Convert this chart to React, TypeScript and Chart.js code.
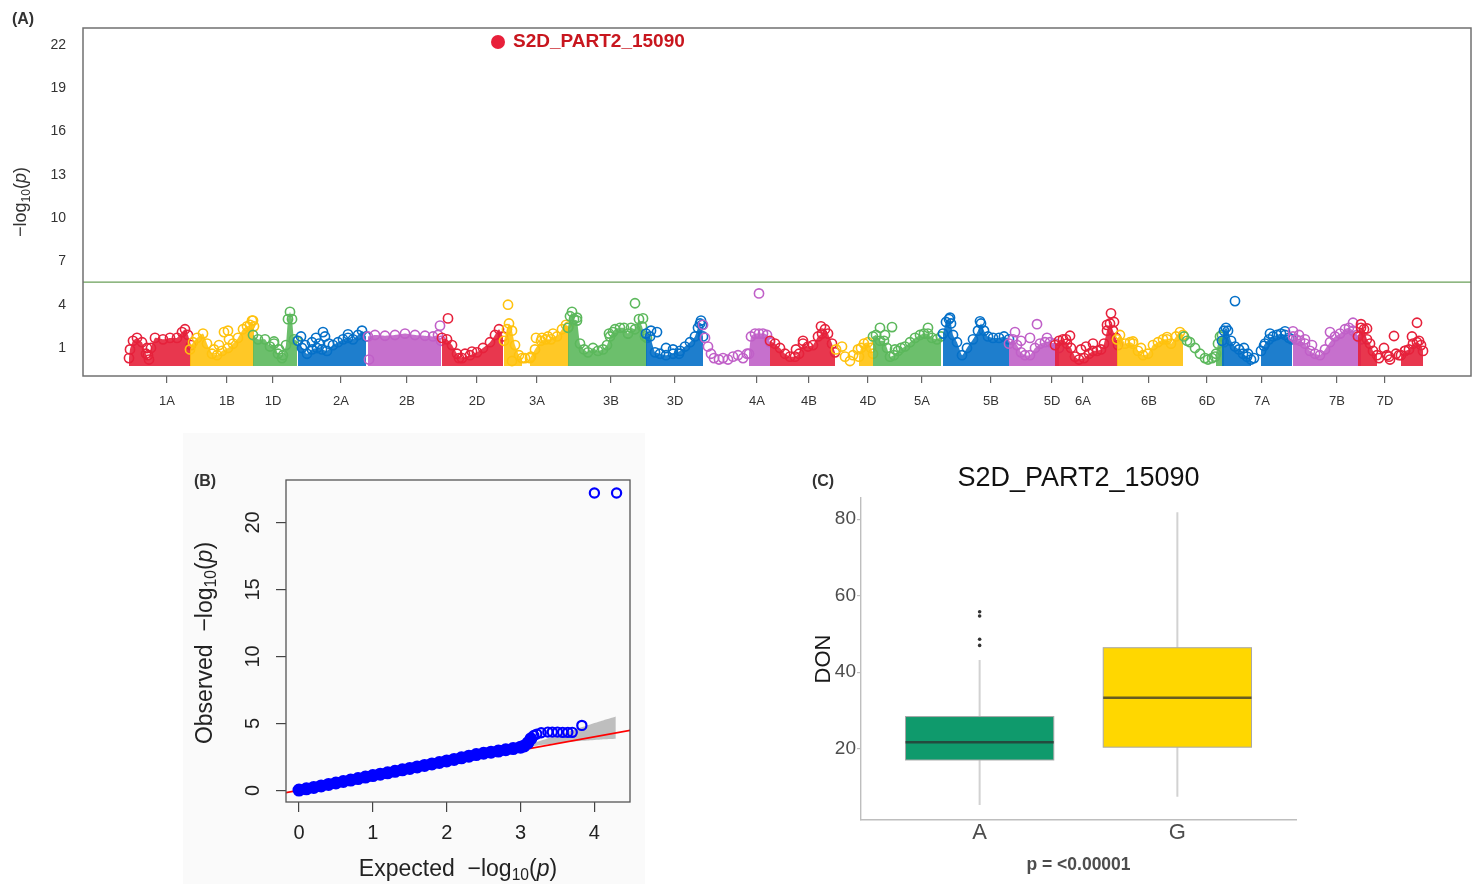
import React, { useEffect, useRef } from 'react';
import { Chart, registerables } from 'chart.js';

Chart.register(...registerables);

const FONT = '"Liberation Sans", Arial, Helvetica, sans-serif';
Chart.defaults.font.family = FONT;
Chart.defaults.color = '#333';

// ---------------- (A) Manhattan plot data ----------------
const chromosomes = ['1A', '1B', '1D', '2A', '2B', '2D', '3A', '3B', '3D', '4A', '4B', '4D', '5A', '5B', '5D', '6A', '6B', '6D', '7A', '7B', '7D'];
const chromTickPositions = [84, 144, 190, 258, 324, 394, 454, 528, 592, 674, 726, 785, 839, 908, 969, 1000, 1066, 1124, 1179, 1254, 1302];
// dense marker clouds: "position:-log10(p)" pairs along the top of each cloud; '|' separates clouds
const chromDense = [
  '46:0.3 47:0.9 50:1.5 54:1.7 59:1.4 63:0.6 66:0.2 68:1.0 72:1.7 80:1.6 87:1.7 94:1.7 99:2.1 102:2.3 105:1.9 108:1.2',
  '107:0.9 110:1.4 114:1.7 120:2.0 124:1.3 129:0.6 134:0.5 139:0.8 145:1.0 150:1.3 155:1.7 160:2.3 164:2.5 167:2.6 169:2.9 171:2.5',
  '170:1.9 175:1.6 182:1.6 187:1.1 191:1.3 195:0.6 200:0.5 203:1.2 205:3.0 207:3.5 209:3.0 211:1.6 214:1.5',
  '215:1.5 219:1.0 224:0.6 229:0.9 234:1.0 239:0.9 244:0.8 250:1.2 255:1.4 260:1.6 265:1.7 270:1.6 275:1.9 279:2.2 283:1.8',
  '285:1.8 292:1.9 302:1.85 312:1.9 322:2.0 332:1.9 342:1.85 350:1.8 355:1.9 358:1.5',
  '359:1.7 364:1.6 369:1.2 374:0.6 379:0.3 387:0.5 394:0.7 400:1.0 407:1.4 412:1.9 416:2.3 420:1.8',
  '421:1.5 424:2.3 426:2.7 429:2.2 432:1.2 436:0.5 439:0.3|447:0.3 452:0.9 458:1.5 463:1.6 468:1.6 474:1.8 479:2.3 483:2.6 486:2.5',
  '485:2.4 487:3.2 489:3.5 491:3.0 494:2.9 497:1.3 501:0.9 505:0.7 510:1.0 515:0.8 520:0.9 524:1.2 527:1.8 532:2.3 537:2.4 541:2.4 545:2.0 548:2.4 552:2.3 556:3.0 559:2.5 562:1.8 564:1.7',
  '563:2.0 567:1.8 572:0.7 577:0.6 583:0.5 590:0.6 597:0.8 602:1.1 607:1.4 612:1.8 615:2.4 617:2.7 620:1.8',
  '666:0.6 668:1.8 672:2.0 676:2.0 680:2.0 684:1.9 687:1.4',
  '687:1.5 692:1.3 697:1.0 702:0.6 707:0.4 712:0.4 716:0.6 720:1.3 725:1.1 730:1.2 735:1.8 739:2.0 742:2.3 745:2.0 749:1.3 752:0.7',
  '776:0.4 778:1.0 781:1.3 785:1.4 788:1.0 790:0.6',
  '790:1.8 793:1.9 797:1.5 801:1.5 804:1.0 807:0.4 811:0.5 815:0.8 822:1.1 827:1.4 832:1.7 837:1.9 841:2.0 845:2.0 849:1.7 854:1.6 858:1.8',
  '860:2.0 863:2.8 866:3.0 868:2.7 870:1.9 874:1.4 879:0.5 884:1.0 890:1.6 895:2.2 898:2.7 901:2.2 905:1.8 910:1.7 916:1.7 921:1.8 926:1.6',
  '926:1.3 930:1.6 934:1.2 938:0.7 942:0.5 947:0.5 952:1.0 957:1.3 962:1.4 967:1.4 972:1.3 976:1.0',
  '972:1.2 976:1.5 980:1.6 984:1.3 988:1.0 992:0.4 996:0.2 1001:0.3 1006:0.6 1010:0.8 1014:0.8 1018:0.9 1021:1.3 1024:2.2 1027:2.7 1030:2.2 1033:1.7 1035:1.2',
  '1034:1.6 1037:1.9 1042:1.3 1047:1.4 1050:1.3 1055:0.8 1060:0.5 1065:0.6 1070:1.2 1075:1.4 1080:1.6 1084:1.6 1088:1.3 1093:1.8 1097:2.1 1100:1.9',
  '1133:0.6 1135:1.3 1137:1.8 1139:1.9 1141:1.4',
  '1139:1.5 1141:2.2 1143:2.4 1145:2.2 1148:1.5 1152:1.1 1156:0.9 1160:0.6 1164:0.4 1168:0.2|1178:0.8 1182:1.3 1186:1.6 1190:1.8 1194:1.9 1198:2.0 1202:1.9 1206:1.7 1209:1.6',
  '1210:1.8 1213:1.6 1217:1.5 1222:1.3 1227:0.8 1232:0.6 1237:0.5 1242:0.9 1247:1.4 1252:1.8 1257:2.0 1262:2.3 1266:2.4 1270:2.2 1274:1.9 1278:1.6',
  '1275:1.8 1278:2.4 1281:2.3 1284:1.6 1287:1.3 1290:0.8 1294:0.5|1318:0.5 1322:0.8 1326:0.9 1330:1.3 1334:1.4 1338:1.2 1340:0.8',
];
// isolated markers
const chromSparse = [
  '64:1.0 65:0.5',
  '131:0.9 136:1.2 141:2.1 145:2.2 146:1.6 170:2.9',
  '196:0.9 199:0.3 191:1.45',
  '218:1.8 222:1.2 229:1.4 233:1.7 236:1.3 240:2.1 242:1.8 246:1.3 265:1.95',
  '286:0.2 357:2.55',
  '365:3.05 382:0.6 389:0.75 376:0.3',
  '425:4.0 442:0.3 448:0.4 453:1.7 459:1.7 465:1.8 470:2.0 429:0.1',
  '494:3.1 526:2.0 530:2.1 552:4.1 560:3.05',
  '568:2.2 574:2.1 583:1.0 590:0.9 596:0.6 618:2.9 619:2.6',
  '620:2.6 622:1.7 625:1.1 628:0.6 631:0.3 636:0.2 640:0.3 645:0.2 650:0.4 655:0.5 660:0.3 664:0.6 676:4.78',
  '713:0.9 720:1.5 738:2.5',
  '753:0.9 759:1.1 762:0.4 767:0.1 770:0.5 775:0.9',
  '797:2.4 802:1.9 809:2.45 812:0.9 818:1.0 845:2.4',
  '867:3.1 897:2.85',
  '932:2.1 938:1.5 947:1.7 954:2.65 964:1.7',
  '983:1.6 987:1.85 998:0.9 1003:1.1 1010:1.3 1024:2.6 1028:3.4 1031:2.8',
  '1050:1.45 1058:1.0 1084:1.75',
  '1101:1.8 1104:1.5 1107:1.4 1112:1.0 1117:0.6 1122:0.3 1125:0.2 1129:0.3 1132:0.4',
  '1152:4.25 1161:1.0 1165:0.6 1171:0.3 1181:1.15 1187:2.0 1202:2.15',
  '1210:2.15 1216:1.9 1222:1.6 1229:1.2 1247:2.1 1270:2.75',
  '1278:2.65 1284:2.35 1296:0.3 1301:1.0 1304:0.5 1306:0.4 1307:0.2 1311:1.83 1313:0.6 1316:0.5 1322:0.8 1329:1.8 1334:2.75 1336:1.5',
];
const chromPalette = ['#E6213B', '#FFC20E', '#5CB85C', '#0570C8', '#C060C8'];
const manhattanYTicks = [1, 4, 7, 10, 13, 16, 19, 22];
const genomeMin = 0;
const genomeMax = 1388;
const manhattanYMin = -0.94;
const manhattanYMax = 23.17;
const significanceThreshold = 5.57;
const topSnpName = 'S2D_PART2_15090';
const topSnpPosition = 415;
const topSnpLogP = 22.2;

// ---------------- (B) QQ plot data ----------------
const qqExpected = [0, 0.1, 0.2, 0.3, 0.4, 0.5, 0.6, 0.7, 0.8, 0.9, 1.0, 1.1, 1.2, 1.3, 1.4, 1.5, 1.6, 1.7, 1.8, 1.9, 2.0, 2.1, 2.2, 2.3, 2.4, 2.5, 2.6, 2.7, 2.8, 2.9, 3.0, 3.05, 3.1, 3.14];
const qqObserved = [0.02, 0.11, 0.22, 0.33, 0.44, 0.55, 0.66, 0.77, 0.88, 0.99, 1.1, 1.21, 1.31, 1.42, 1.53, 1.64, 1.75, 1.86, 1.97, 2.08, 2.2, 2.31, 2.43, 2.55, 2.67, 2.77, 2.85, 2.93, 3.03, 3.12, 3.22, 3.32, 3.55, 3.85];
const qqTailExpected = [3.18, 3.22, 3.28, 3.37, 3.43, 3.5, 3.57, 3.64, 3.7, 3.83, 4.0, 4.3];
const qqTailObserved = [4.1, 4.2, 4.3, 4.35, 4.35, 4.35, 4.33, 4.33, 4.33, 4.85, 22.2, 22.2];
const qqBandX = [3.07, 3.3, 3.6, 3.9, 4.1, 4.29];
const qqBandUpper = [3.3, 3.75, 4.3, 4.85, 5.2, 5.52];
const qqBandLower = [3.2, 3.4, 3.6, 3.72, 3.8, 3.85];
const qqLineEnds = [-0.3, 4.6];
const qqXTicks = [0, 1, 2, 3, 4];
const qqYTicks = [0, 5, 10, 15, 20];
const qqXMin = -0.176;
const qqXMax = 4.482;
const qqYMin = -0.87;
const qqYMax = 23.17;

// ---------------- (C) Box plot data ----------------
const alleles = ['A', 'G'];
const alleleColors = ['#0F9A6C', '#FFD700'];
const whiskerLow = [5.3, 7.45];
const quartile1 = [17.05, 20.4];
const medianDON = [21.7, 33.3];
const quartile3 = [28.4, 46.4];
const whiskerHigh = [43.2, 81.8];
const outliersA = [55.8, 54.7, 48.6, 47.0];
const donTicks = [20, 40, 60, 80];
const donMin = 1.36;
const donMax = 85.54;
const pValueLabel = 'p = <0.00001';

// ---------------- helpers ----------------
const parsePoints = (s: string) =>
  s.trim().split(/\s+/).filter(Boolean).map((t) => {
    const [x, y] = t.split(':').map(Number);
    return { x, y };
  });

const rgba = (hex: string, a: number) => {
  const n = parseInt(hex.slice(1), 16);
  return `rgba(${(n >> 16) & 255},${(n >> 8) & 255},${n & 255},${a})`;
};

const zip = (xs: number[], ys: number[]) => xs.map((x, i) => ({ x, y: ys[i] }));

const framePlugin = (color: string, width: number) => ({
  id: 'frame',
  afterDraw(chart: any) {
    const { ctx, chartArea: a } = chart;
    ctx.save();
    ctx.strokeStyle = color;
    ctx.lineWidth = width;
    ctx.strokeRect(a.left, a.top, a.right - a.left, a.bottom - a.top);
    ctx.restore();
  },
});

const TRANSPARENT = 'rgba(0,0,0,0)';

function manhattanConfig(): any {
  const datasets: any[] = [];
  chromosomes.forEach((name, i) => {
    const color = chromPalette[i % chromPalette.length];
    chromDense[i].split('|').forEach((seg) => {
      datasets.push({
        label: name,
        data: parsePoints(seg),
        showLine: true,
        borderColor: TRANSPARENT,
        borderWidth: 1,
        backgroundColor: rgba(color, 0.9),
        fill: { value: -0.25 },
        tension: 0.12,
        pointRadius: 4.6,
        pointBorderWidth: 1.6,
        pointBorderColor: color,
        pointBackgroundColor: TRANSPARENT,
        order: -i,
      });
    });
    datasets.push({
      label: name,
      data: parsePoints(chromSparse[i]),
      showLine: false,
      borderColor: color,
      backgroundColor: TRANSPARENT,
      fill: false,
      pointRadius: 4.6,
      pointBorderWidth: 1.6,
      pointBorderColor: color,
      pointBackgroundColor: TRANSPARENT,
      order: -i,
    });
  });
  datasets.push({
    label: topSnpName,
    data: [{ x: topSnpPosition, y: topSnpLogP }],
    showLine: false,
    pointRadius: 7,
    pointBorderWidth: 0,
    pointBorderColor: '#E8203A',
    pointBackgroundColor: '#E8203A',
    order: -100,
  });

  const thresholdPlugin = {
    id: 'threshold',
    beforeDatasetsDraw(chart: any) {
      const { ctx, chartArea: a, scales } = chart;
      const y = scales.y.getPixelForValue(significanceThreshold);
      ctx.save();
      ctx.strokeStyle = '#6A9F58';
      ctx.lineWidth = 1.3;
      ctx.beginPath();
      ctx.moveTo(a.left, y);
      ctx.lineTo(a.right, y);
      ctx.stroke();
      ctx.restore();
    },
  };
  const snpLabelPlugin = {
    id: 'snpLabel',
    afterDatasetsDraw(chart: any) {
      const { ctx, scales } = chart;
      const x = scales.x.getPixelForValue(topSnpPosition);
      const y = scales.y.getPixelForValue(topSnpLogP);
      ctx.save();
      ctx.font = `bold 19px ${FONT}`;
      ctx.fillStyle = '#C8161E';
      ctx.textAlign = 'left';
      ctx.textBaseline = 'middle';
      ctx.fillText(topSnpName, x + 15, y);
      ctx.restore();
    },
  };

  return {
    type: 'line',
    data: { datasets },
    options: {
      responsive: false,
      animation: false,
      events: [],
      layout: { padding: { top: 28, right: 9, left: 0, bottom: 0 } },
      plugins: { legend: { display: false }, tooltip: { enabled: false } },
      scales: {
        x: {
          type: 'linear',
          min: genomeMin,
          max: genomeMax,
          afterBuildTicks: (s: any) => {
            s.ticks = chromTickPositions.map((v) => ({ value: v }));
          },
          afterFit: (s: any) => {
            s.height = 44;
          },
          ticks: {
            autoSkip: false,
            maxRotation: 0,
            minRotation: 0,
            padding: 11,
            color: '#333',
            font: { size: 13 },
            callback: (_v: any, i: number) => chromosomes[i],
          },
          grid: { drawOnChartArea: false, drawTicks: true, tickLength: 7, color: '#666', lineWidth: 1.2 },
          border: { display: false },
        },
        y: {
          type: 'linear',
          min: manhattanYMin,
          max: manhattanYMax,
          afterBuildTicks: (s: any) => {
            s.ticks = manhattanYTicks.map((v) => ({ value: v }));
          },
          afterFit: (s: any) => {
            s.width = 83;
          },
          ticks: { padding: 17, color: '#333', font: { size: 14 } },
          grid: { display: false, drawTicks: false },
          border: { display: false },
        },
      },
    },
    plugins: [thresholdPlugin, snpLabelPlugin, framePlugin('#707070', 1.5)],
  };
}

function qqConfig(): any {
  const rotatedYLabels = {
    id: 'rotatedYLabels',
    afterDraw(chart: any) {
      const { ctx, chartArea: a, scales } = chart;
      ctx.save();
      ctx.font = `20px ${FONT}`;
      ctx.fillStyle = '#222';
      ctx.textAlign = 'center';
      ctx.textBaseline = 'middle';
      qqYTicks.forEach((v) => {
        const y = scales.y.getPixelForValue(v);
        ctx.save();
        ctx.translate(a.left - 33, y);
        ctx.rotate(-Math.PI / 2);
        ctx.fillText(String(v), 0, 0);
        ctx.restore();
      });
      ctx.restore();
    },
  };
  return {
    type: 'line',
    data: {
      datasets: [
        {
          label: 'band upper',
          data: zip(qqBandX, qqBandUpper),
          borderColor: TRANSPARENT,
          backgroundColor: '#BEBEBE',
          fill: '+1',
          pointRadius: 0,
          tension: 0.2,
          order: 5,
        },
        {
          label: 'band lower',
          data: zip(qqBandX, qqBandLower),
          borderColor: TRANSPARENT,
          backgroundColor: TRANSPARENT,
          fill: false,
          pointRadius: 0,
          tension: 0.2,
          order: 6,
        },
        {
          label: 'expected line',
          data: qqLineEnds.map((v) => ({ x: v, y: v })),
          borderColor: '#FF0000',
          borderWidth: 1.8,
          pointRadius: 0,
          fill: false,
          order: 4,
        },
        {
          label: 'observed',
          data: zip(qqExpected, qqObserved),
          showLine: true,
          borderColor: '#0000FF',
          borderWidth: 10,
          borderCapStyle: 'round',
          borderJoinStyle: 'round',
          fill: false,
          pointRadius: 5.5,
          pointBorderWidth: 2,
          pointBorderColor: '#0000FF',
          pointBackgroundColor: '#0000FF',
          order: 1,
        },
        {
          label: 'observed tail',
          data: zip(qqTailExpected, qqTailObserved),
          showLine: false,
          fill: false,
          pointRadius: 4.6,
          pointBorderWidth: 2.2,
          pointBorderColor: '#0000FF',
          pointBackgroundColor: TRANSPARENT,
          order: 0,
        },
      ],
    },
    options: {
      responsive: false,
      animation: false,
      events: [],
      layout: { padding: { top: 50, right: 20, left: 0, bottom: 0 } },
      plugins: { legend: { display: false }, tooltip: { enabled: false } },
      scales: {
        x: {
          type: 'linear',
          min: qqXMin,
          max: qqXMax,
          afterBuildTicks: (s: any) => {
            s.ticks = qqXTicks.map((v) => ({ value: v }));
          },
          afterFit: (s: any) => {
            s.height = 82;
          },
          ticks: { padding: 9, color: '#222', font: { size: 20 }, maxRotation: 0, autoSkip: false },
          grid: { drawOnChartArea: false, drawTicks: true, tickLength: 10, color: '#444', lineWidth: 1.2 },
          border: { display: false },
        },
        y: {
          type: 'linear',
          min: qqYMin,
          max: qqYMax,
          afterBuildTicks: (s: any) => {
            s.ticks = qqYTicks.map((v) => ({ value: v }));
          },
          afterFit: (s: any) => {
            s.width = 136;
          },
          ticks: { display: false },
          grid: { drawOnChartArea: false, drawTicks: true, tickLength: 10, color: '#444', lineWidth: 1.2 },
          border: { display: false },
        },
      },
    },
    plugins: [framePlugin('#555', 1.3), rotatedYLabels],
  };
}

function boxConfig(): any {
  const boxWidth = 0.75;
  const boxplotPlugin = {
    id: 'boxplot',
    beforeDatasetsDraw(chart: any) {
      const { ctx, scales } = chart;
      const { x, y } = scales;
      ctx.save();
      alleles.forEach((_a, i) => {
        const pos = i + 1;
        const cx = x.getPixelForValue(pos);
        const xl = x.getPixelForValue(pos - boxWidth / 2);
        const xr = x.getPixelForValue(pos + boxWidth / 2);
        const yLo = y.getPixelForValue(whiskerLow[i]);
        const yQ1 = y.getPixelForValue(quartile1[i]);
        const yMed = y.getPixelForValue(medianDON[i]);
        const yQ3 = y.getPixelForValue(quartile3[i]);
        const yHi = y.getPixelForValue(whiskerHigh[i]);
        ctx.strokeStyle = '#D2D2D2';
        ctx.lineWidth = 2;
        ctx.beginPath();
        ctx.moveTo(cx, yLo);
        ctx.lineTo(cx, yQ1);
        ctx.moveTo(cx, yQ3);
        ctx.lineTo(cx, yHi);
        ctx.stroke();
        ctx.fillStyle = alleleColors[i];
        ctx.fillRect(xl, yQ3, xr - xl, yQ1 - yQ3);
        ctx.strokeStyle = '#A8A8A8';
        ctx.lineWidth = 1;
        ctx.strokeRect(xl, yQ3, xr - xl, yQ1 - yQ3);
        ctx.strokeStyle = 'rgba(45,45,45,0.72)';
        ctx.lineWidth = 2.5;
        ctx.beginPath();
        ctx.moveTo(xl, yMed);
        ctx.lineTo(xr, yMed);
        ctx.stroke();
      });
      ctx.restore();
    },
  };
  return {
    type: 'line',
    data: {
      datasets: [
        {
          label: 'outliers',
          data: outliersA.map((v) => ({ x: 1, y: v })),
          showLine: false,
          fill: false,
          pointRadius: 1.8,
          pointBorderWidth: 0,
          pointBackgroundColor: '#333',
          pointBorderColor: '#333',
        },
      ],
    },
    options: {
      responsive: false,
      animation: false,
      events: [],
      layout: { padding: { top: 0, right: 24, left: 0, bottom: 0 } },
      plugins: {
        legend: { display: false },
        tooltip: { enabled: false },
        title: {
          display: true,
          text: topSnpName,
          fullSize: false,
          color: '#111',
          font: { size: 27, weight: 'normal' },
          padding: { top: 12.8, bottom: 2.8 },
        },
      },
      scales: {
        x: {
          type: 'linear',
          min: 0.4,
          max: 2.6,
          afterBuildTicks: (s: any) => {
            s.ticks = alleles.map((_a, i) => ({ value: i + 1 }));
          },
          afterFit: (s: any) => {
            s.height = 64;
          },
          ticks: {
            padding: 0,
            color: '#4D4D4D',
            font: { size: 22 },
            maxRotation: 0,
            autoSkip: false,
            callback: (_v: any, i: number) => alleles[i],
          },
          grid: { display: false, drawTicks: false },
          border: { display: true, color: '#BEBEBE', width: 1.4 },
          title: {
            display: true,
            text: pValueLabel,
            color: '#4D4D4D',
            font: { size: 17.5, weight: 'bold' },
            padding: { top: 0, bottom: 8.5 },
          },
        },
        y: {
          type: 'linear',
          min: donMin,
          max: donMax,
          afterBuildTicks: (s: any) => {
            s.ticks = donTicks.map((v) => ({ value: v }));
          },
          afterFit: (s: any) => {
            s.width = 71;
          },
          ticks: { padding: 1, color: '#4D4D4D', font: { size: 19 } },
          grid: { drawOnChartArea: false, drawTicks: true, tickLength: 4, color: '#BEBEBE', lineWidth: 1.2 },
          border: { display: true, color: '#BEBEBE', width: 1.4 },
          title: {
            display: true,
            text: 'DON',
            color: '#1A1A1A',
            font: { size: 22, weight: 'normal' },
            padding: { top: 20.3, bottom: 0 },
          },
        },
      },
    },
    plugins: [boxplotPlugin],
  };
}

function ChartCanvas(props: { left: number; top: number; width: number; height: number; makeConfig: () => any }) {
  const { left, top, width, height, makeConfig } = props;
  const ref = useRef<HTMLCanvasElement | null>(null);
  useEffect(() => {
    const chart = new Chart(ref.current as HTMLCanvasElement, makeConfig());
    return () => chart.destroy();
  }, [makeConfig]);
  return (
    <canvas
      ref={ref}
      width={width}
      height={height}
      style={{ position: 'absolute', left, top, width, height }}
    />
  );
}

function Label(props: { x: number; y: number; size: number; bold?: boolean; rotate?: boolean; color?: string; children: any }) {
  const { x, y, size, bold, rotate, color, children } = props;
  return (
    <div
      style={{
        position: 'absolute',
        left: x,
        top: y,
        transform: `translate(-50%, -50%)${rotate ? ' rotate(-90deg)' : ''}`,
        fontSize: size,
        fontWeight: bold ? 'bold' : 'normal',
        color: color || '#222',
        whiteSpace: 'nowrap',
        lineHeight: 1,
        fontFamily: FONT,
      }}
    >
      {children}
    </div>
  );
}

const subStyle: any = { fontSize: '0.68em', verticalAlign: '-0.3em', lineHeight: 0 };

export default function App() {
  return (
    <div
      style={{
        position: 'absolute',
        left: 0,
        top: 0,
        width: 1480,
        height: 884,
        overflow: 'hidden',
        background: '#ffffff',
        fontFamily: FONT,
      }}
    >
      <div style={{ position: 'absolute', left: 183, top: 433, width: 462, height: 451, background: '#FAFAFA' }} />
      <ChartCanvas left={0} top={0} width={1480} height={420} makeConfig={manhattanConfig} />
      <ChartCanvas left={150} top={430} width={500} height={454} makeConfig={qqConfig} />
      <ChartCanvas left={790} top={450} width={530} height={434} makeConfig={boxConfig} />

      <Label x={23} y={19} size={16} bold color="#333">(A)</Label>
      <Label x={20} y={202} size={18} rotate color="#333">
        −log<sub style={subStyle}>10</sub>(<i>p</i>)
      </Label>

      <Label x={205} y={481} size={16} bold color="#333">(B)</Label>
      <Label x={458} y={868} size={23} color="#222">
        Expected&nbsp;&nbsp;−log<sub style={subStyle}>10</sub>(<i>p</i>)
      </Label>
      <Label x={204} y={643} size={23} rotate color="#222">
        Observed&nbsp;&nbsp;−log<sub style={subStyle}>10</sub>(<i>p</i>)
      </Label>

      <Label x={823} y={481} size={16} bold color="#333">(C)</Label>
    </div>
  );
}
